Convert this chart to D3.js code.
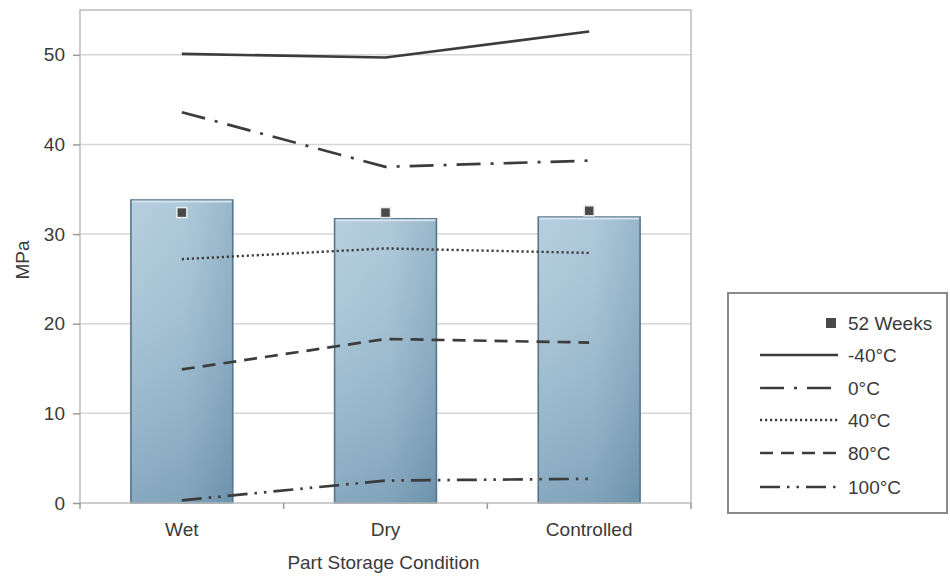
<!DOCTYPE html>
<html><head><meta charset="utf-8">
<script src="https://cdnjs.cloudflare.com/ajax/libs/d3/7.8.5/d3.min.js"></script>
<style>body{margin:0;background:#fff;}text{font-family:"Liberation Sans",Arial,sans-serif;fill:#3a3a3a;}</style>
</head><body><svg id="c" width="950" height="576"></svg>
<script>
const categories = ["Wet", "Dry", "Controlled"];
const barValues = [33.8, 31.7, 31.9];
const weeks52 = [32.4, 32.4, 32.6];
const seriesNames = ["-40°C", "0°C", "40°C", "80°C", "100°C"];
const seriesM40 = [50.1, 49.7, 52.6];
const series0 = [43.6, 37.5, 38.2];
const series40 = [27.2, 28.4, 27.9];
const series80 = [14.9, 18.3, 17.9];
const series100 = [0.3, 2.5, 2.7];
const yTicks = [0, 10, 20, 30, 40, 50];

const dashes = [null, "24,10,3,10", "2.2,2.8", "13,8", "20,7,2.5,7,2.5,7"];
const seriesData = [seriesM40, series0, series40, series80, series100];

const svg = d3.select("#c");
const m = {l: 80, r: 259, t: 10, b: 73};
const W = 950 - m.l - m.r, H = 576 - m.t - m.b;
const x = d3.scaleBand().domain(categories).range([m.l, m.l + W]).paddingInner(0).paddingOuter(0);
const y = d3.scaleLinear().domain([0, 55]).range([m.t + H, m.t]);
const FS = 19;

const defs = svg.append("defs");
const g1 = defs.append("linearGradient").attr("id", "bg").attr("x1", 0).attr("x2", 1).attr("y1", 0).attr("y2", 0);
g1.append("stop").attr("offset", 0).attr("stop-color", "#a9c7da");
g1.append("stop").attr("offset", 0.55).attr("stop-color", "#a0bfd3");
g1.append("stop").attr("offset", 1).attr("stop-color", "#86a9c1");
const g2 = defs.append("linearGradient").attr("id", "vg").attr("x1", 0).attr("x2", 0).attr("y1", 0).attr("y2", 1);
g2.append("stop").attr("offset", 0).attr("stop-color", "#ffffff").attr("stop-opacity", 0.15);
g2.append("stop").attr("offset", 1).attr("stop-color", "#1f4f70").attr("stop-opacity", 0.25);

// gridlines
svg.append("g").selectAll("line").data(yTicks.slice(1)).join("line")
  .attr("x1", m.l).attr("x2", m.l + W).attr("y1", d => y(d)).attr("y2", d => y(d))
  .attr("stroke", "#d6d6d6").attr("stroke-width", 1.5);

// bars
const bw = x.bandwidth() * 0.5;
const bars = svg.append("g");
bars.selectAll("rect.b").data(barValues).join("rect").attr("class", "b")
  .attr("x", (d, i) => x(categories[i]) + x.bandwidth() / 2 - bw / 2)
  .attr("y", d => y(d)).attr("width", bw).attr("height", d => y(0) - y(d))
  .attr("fill", "url(#bg)");
bars.selectAll("rect.v").data(barValues).join("rect").attr("class", "v")
  .attr("x", (d, i) => x(categories[i]) + x.bandwidth() / 2 - bw / 2)
  .attr("y", d => y(d)).attr("width", bw).attr("height", d => y(0) - y(d))
  .attr("fill", "url(#vg)").attr("stroke", "#56768b").attr("stroke-width", 1.6);
bars.selectAll("line.t").data(barValues).join("line").attr("class", "t")
  .attr("x1", (d, i) => x(categories[i]) + x.bandwidth() / 2 - bw / 2 + 1)
  .attr("x2", (d, i) => x(categories[i]) + x.bandwidth() / 2 + bw / 2 - 1)
  .attr("y1", d => y(d) + 1.5).attr("y2", d => y(d) + 1.5)
  .attr("stroke", "#d5e4ee").attr("stroke-width", 2);

// plot border
svg.append("rect").attr("x", m.l).attr("y", m.t).attr("width", W).attr("height", H)
  .attr("fill", "none").attr("stroke", "#bdbdbd").attr("stroke-width", 1.5);

// lines
const line = d3.line().x((d, i) => x(categories[i]) + x.bandwidth() / 2).y(d => y(d));
svg.append("g").selectAll("path").data(seriesData).join("path")
  .attr("d", d => line(d)).attr("fill", "none").attr("stroke", "#3c3c3c")
  .attr("stroke-width", (d, i) => i === 2 ? 2.4 : 2.7)
  .attr("stroke-linejoin", "round")
  .attr("stroke-dasharray", (d, i) => dashes[i]);

// markers
svg.append("g").selectAll("rect").data(weeks52).join("rect")
  .attr("x", (d, i) => x(categories[i]) + x.bandwidth() / 2 - 5).attr("y", d => y(d) - 5)
  .attr("width", 10).attr("height", 10).attr("fill", "#4a4a4a").attr("stroke", "#e8eef2").attr("stroke-width", 1.5);

// axes
const yAxis = svg.append("g").attr("transform", `translate(${m.l},0)`)
  .call(d3.axisLeft(y).tickValues(yTicks).tickSize(7).tickPadding(8));
yAxis.select(".domain").remove();
yAxis.selectAll("line").attr("stroke", "#9a9a9a").attr("stroke-width", 1.5);
yAxis.selectAll("text").attr("font-size", FS).attr("fill", "#3a3a3a");

const xAxis = svg.append("g").attr("transform", `translate(0,${m.t + H})`);
xAxis.selectAll("line").data([0, 1, 2, 3]).join("line")
  .attr("x1", i => m.l + i * x.bandwidth()).attr("x2", i => m.l + i * x.bandwidth())
  .attr("y1", 0).attr("y2", 6).attr("stroke", "#9a9a9a").attr("stroke-width", 1.5);
xAxis.selectAll("text").data(categories).join("text")
  .attr("x", d => x(d) + x.bandwidth() / 2).attr("y", 33).attr("text-anchor", "middle")
  .attr("font-size", FS).text(d => d);

svg.append("text").attr("x", m.l + W / 2 - 2).attr("y", 569).attr("text-anchor", "middle")
  .attr("font-size", FS).text("Part Storage Condition");
svg.append("text").attr("transform", `translate(29,260) rotate(-90)`)
  .attr("text-anchor", "middle").attr("font-size", FS).text("MPa");

// legend
const lg = svg.append("g");
lg.append("rect").attr("x", 728).attr("y", 293).attr("width", 219).attr("height", 220)
  .attr("fill", "#fff").attr("stroke", "#8a8a8a").attr("stroke-width", 2);
lg.append("rect").attr("x", 826).attr("y", 318).attr("width", 10).attr("height", 10).attr("fill", "#4a4a4a");
lg.append("text").attr("x", 848).attr("y", 330).attr("font-size", FS).text("52 Weeks");
const ly = [355, 388, 420, 453, 487];
seriesNames.forEach((n, i) => {
  lg.append("line").attr("x1", 760).attr("x2", 838).attr("y1", ly[i]).attr("y2", ly[i])
    .attr("stroke", "#3c3c3c").attr("stroke-width", 2.4).attr("stroke-dasharray", dashes[i]);
  lg.append("text").attr("x", 848).attr("y", ly[i] + 7).attr("font-size", FS).text(n);
});
</script></body></html>
